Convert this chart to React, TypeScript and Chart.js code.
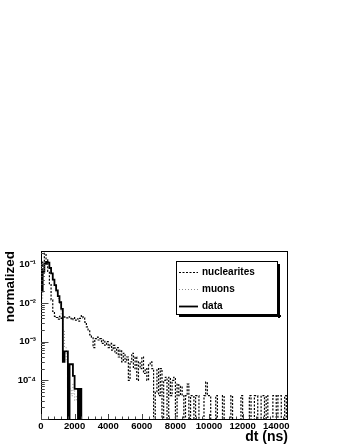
import React, { useEffect, useRef } from "react";
import { Chart, registerables } from "chart.js";

Chart.register(...registerables);

// ---- data (bin width 100 ns, bins start at 0) ----
const BIN_WIDTH = 100;
const X_MIN = 0;
const X_MAX = 14700;
const Y_MIN = 1e-5;
const Y_MAX = 0.22;
const X_TICKS = [0, 2000, 4000, 6000, 8000, 10000, 12000, 14000];
const Y_TICKS = [1e-4, 1e-3, 1e-2, 1e-1];
const X_TITLE = "dt (ns)";
const Y_TITLE = "normalized";
const LEGEND_LABELS = ["nuclearites", "muons", "data"];

const NUCLEARITES = [
  0.05, 0.12, 0.19, 0.13, 0.065, 0.03, 0.012, 0.006, 0.0045, 0.0042,
  0.0038, 0.0045, 0.004, 0.0046, 0.0043, 0.0041, 0.0044, 0.004, 0.0037, 0.0042,
  0.0036, 0.0039, 0.0034, 0.004, 0.0047, 0.0041, 0.0032, 0.0024, 0.0019, 0.0015,
  0.0013, 0.0007, 0.0012, 0.0013, 0.0011, 0.0012, 0.0009, 0.0011, 0.0008, 0.001,
  0.0007, 0.0009, 0.0006, 0.0008, 0.0005, 0.0007, 0.0004, 0.0006, 0.0003, 0.0005,
  0.0003, 0.0004, 0.0001, 0.0003, 0.0005, 0.0002, 0.0004, 0.0001, 0.0003, 0.0002,
  0.0004, 0.00015, 0.0002, 0.0001, 0.00025, 0.0003, 0.0002, 0, 0.00005, 0.0002,
  0.00004, 0.0002, 0, 0.0001, 0.00012, 0, 0.00012, 0.00004, 0.0001, 0.00012,
  0, 0.00008, 0.00004, 0.00007, 0.00004, 0, 0.00004, 0.00008, 0, 0.00004,
  0.00004, 0, 0.00004, 0.00004, 0, 0, 0, 0.00004, 0.00009, 0.00004,
  0.00004, 0, 0, 0, 0.00004, 0, 0, 0, 0.00004, 0,
  0, 0, 0, 0.00004, 0, 0, 0, 0, 0, 0.00004,
  0, 0, 0, 0, 0.00004, 0, 0, 0.00004, 0.00004, 0,
  0, 0.00004, 0.00004, 0, 0.00004, 0, 0, 0, 0.00004, 0.00004,
  0, 0.00004, 0.00004, 0, 0, 0.00004, 0,
];

const MUONS = [
  0.012, 0.055, 0.1, 0.11, 0.1, 0.078, 0.056, 0.039, 0.027, 0.019,
  0.013, 0.009, 0.005, 0.002, 0.0007, 0.0003, 0.00012, 0.00006, 0.00004, 0.00008,
  0.00003, 0.00004, 0.00002, 0,
];

const DATA = [
  0.02, 0.065, 0.105, 0.115, 0.11, 0.08, 0.058, 0.04, 0.029, 0.021,
  0.015, 0.0105, 0.007, 0.0003, 0.00056, 0.00056, 0, 0.00026, 0.00026, 0.00013,
  0.00006, 0.00006, 0, 0.00006, 0,
];

const FONT_FAMILY = "'Liberation Sans', Arial, Helvetica, sans-serif";

const SUP: Record<string, string> = {
  "-": "\u207B", "0": "\u2070", "1": "\u00B9", "2": "\u00B2", "3": "\u00B3",
  "4": "\u2074", "5": "\u2075", "6": "\u2076", "7": "\u2077", "8": "\u2078", "9": "\u2079",
};

function powerLabel(v: number): string {
  const e = Math.round(Math.log10(v));
  return "10" + String(e).split("").map((c) => SUP[c] || c).join("");
}

function toSteps(values: number[]) {
  const pts = values.map((v, i) => ({ x: X_MIN + i * BIN_WIDTH, y: v > 0 ? v : 1e-8 }));
  pts.push({ x: X_MIN + values.length * BIN_WIDTH, y: 1e-8 });
  return pts;
}

const framePlugin = {
  id: "rootFrame",
  beforeDraw(chart: any) {
    const ctx = chart.ctx;
    ctx.save();
    ctx.fillStyle = "#fff";
    ctx.fillRect(0, 0, chart.width, chart.height);
    ctx.restore();
  },
  afterDatasetsDraw(chart: any) {
    const { ctx, chartArea } = chart;
    const { left, right, top, bottom } = chartArea;
    const xs = chart.scales.x;
    const ys = chart.scales.y;
    ctx.save();
    ctx.strokeStyle = "#000";
    ctx.lineWidth = 1;
    ctx.strokeRect(Math.round(left) + 0.5, Math.round(top) + 0.5, Math.round(right - left) - 1, Math.round(bottom - top));
    ctx.strokeStyle = "#444";
    ctx.beginPath();
    const yMajorLen = 7.5;
    const yMinorLen = 3.8;
    for (let e = -6; e <= 0; e++) {
      for (let k = 1; k <= 9; k++) {
        const v = k * Math.pow(10, e);
        if (v < Y_MIN * 0.999 || v > Y_MAX) continue;
        const py = Math.round(ys.getPixelForValue(v)) + 0.5;
        const len = k === 1 ? yMajorLen : yMinorLen;
        ctx.moveTo(left, py);
        ctx.lineTo(left + len, py);
      }
    }
    const xMajorLen = 5;
    const xMinorLen = 2.5;
    for (let v = X_MIN; v <= X_MAX; v += 400) {
      const px = Math.round(xs.getPixelForValue(v)) + 0.5;
      const len = v % 2000 === 0 ? xMajorLen : xMinorLen;
      ctx.moveTo(px, bottom);
      ctx.lineTo(px, bottom - len);
    }
    ctx.stroke();
    ctx.restore();
  },
  afterDraw(chart: any) {
    const ctx = chart.ctx;
    const L = 176, T = 261, R = 278, B = 315;
    ctx.save();
    ctx.fillStyle = "#000";
    ctx.fillRect(R, T + 3, 2, B - T);
    ctx.fillRect(L + 3, B, R - L, 2);
    ctx.fillStyle = "#fff";
    ctx.fillRect(L, T, R - L, B - T);
    ctx.strokeStyle = "#000";
    ctx.lineWidth = 1;
    ctx.strokeRect(L + 0.5, T + 0.5, R - L - 1, B - T - 1);
    const rows = [272, 289, 306];
    ctx.font = `bold 10px ${FONT_FAMILY}`;
    ctx.textBaseline = "middle";
    ctx.textAlign = "left";
    LEGEND_LABELS.forEach((label, i) => {
      const ds = chart.data.datasets.find((d: any) => d.label === label);
      if (!ds) return;
      const y = rows[i] + 0.5;
      ctx.save();
      ctx.strokeStyle = ds.borderColor;
      ctx.lineWidth = ds.borderWidth;
      ctx.setLineDash(ds.borderDash || []);
      ctx.beginPath();
      ctx.moveTo(179, y);
      ctx.lineTo(198, y);
      ctx.stroke();
      ctx.restore();
      ctx.fillStyle = "#000";
      ctx.fillText(label, 202, rows[i]);
    });
    ctx.restore();
  },
};

export default function App() {
  const ref = useRef<HTMLCanvasElement | null>(null);
  useEffect(() => {
    document.body.style.margin = "0";
    const canvas = ref.current;
    if (!canvas) return;
    const chart = new Chart(canvas, {
      type: "line",
      data: {
        datasets: [
          {
            label: "data",
            data: toSteps(DATA),
            borderColor: "#000",
            borderWidth: 1.8,
            stepped: "before",
            pointRadius: 0,
            fill: false,
            clip: 0,
          },
          {
            label: "muons",
            data: toSteps(MUONS),
            borderColor: "#8a8a8a",
            borderWidth: 1,
            borderDash: [1, 2],
            stepped: "before",
            pointRadius: 0,
            fill: false,
            clip: 0,
          },
          {
            label: "nuclearites",
            data: toSteps(NUCLEARITES),
            borderColor: "#000",
            borderWidth: 1.2,
            borderDash: [2, 1.5],
            stepped: "before",
            pointRadius: 0,
            fill: false,
            clip: 0,
          },
        ],
      },
      options: {
        responsive: false,
        animation: false,
        devicePixelRatio: 1,
        layout: { padding: { top: 251, right: 58, left: 0, bottom: 0 } },
        plugins: { legend: { display: false }, tooltip: { enabled: false } },
        scales: {
          x: {
            type: "linear",
            min: X_MIN,
            max: X_MAX,
            afterBuildTicks: (s: any) => {
              s.ticks = X_TICKS.map((v) => ({ value: v }));
            },
            afterFit: (s: any) => {
              s.height = 29;
            },
            grid: { display: false, drawTicks: false },
            border: { display: false },
            ticks: {
              padding: 2,
              color: "#000",
              autoSkip: false,
              maxRotation: 0,
              font: { family: FONT_FAMILY, size: 9.5, weight: "bold" },
              callback: (v: any) => String(v),
            },
            title: {
              display: true,
              text: X_TITLE,
              align: "end",
              color: "#000",
              font: { family: FONT_FAMILY, size: 14, weight: "bold" },
              padding: { top: 0, bottom: 2 },
            },
          },
          y: {
            type: "logarithmic",
            min: Y_MIN,
            max: Y_MAX,
            afterBuildTicks: (s: any) => {
              s.ticks = Y_TICKS.map((v) => ({ value: v, major: true }));
            },
            afterFit: (s: any) => {
              s.width = 41;
            },
            grid: { display: false, drawTicks: false },
            border: { display: false },
            ticks: {
              padding: 5,
              color: "#000",
              autoSkip: false,
              font: { family: FONT_FAMILY, size: 9.5, weight: "bold" },
              callback: (v: any) => powerLabel(Number(v)),
            },
            title: {
              display: true,
              text: Y_TITLE,
              align: "end",
              color: "#000",
              font: { family: FONT_FAMILY, size: 13.5, weight: "bold" },
              padding: { top: 2, bottom: 0 },
            },
          },
        },
      },
      plugins: [framePlugin],
    } as any);
    return () => chart.destroy();
  }, []);
  return (
    <canvas
      ref={ref}
      width={346}
      height={448}
      style={{ position: "absolute", left: 0, top: 0, display: "block" }}
    />
  );
}
